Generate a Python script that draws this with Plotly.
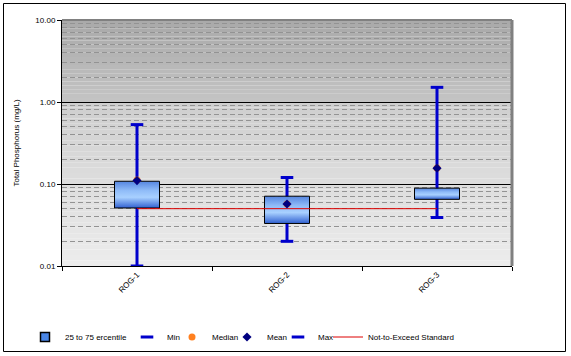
import plotly.graph_objects as go

# ---------------- data ----------------
categories = ["ROG-1", "ROG-2", "ROG-3"]
p25 = [0.051, 0.033, 0.065]
p75 = [0.108, 0.071, 0.089]
vmin = [0.010, 0.020, 0.039]
vmax = [0.53, 0.12, 1.51]
median = [0.112, 0.057, 0.157]
mean = [0.110, 0.057, 0.156]
standard = [0.05, 0.05, 0.05]
y_ticks = [0.01, 0.1, 1, 10]
y_tick_labels = ["0.01", "0.10", "1.00", "10.00"]

legend_names = ["25 to 75 ercentile", "Min", "Median", "Mean", "Max", "Not-to-Exceed Standard"]

# ---------------- layout constants ----------------
W, H = 571, 356
PLOT_L, PLOT_T, PW, PH = 62, 20, 450, 246   # plot area in window pixels
ML, MT = PLOT_L, PLOT_T
MR, MB = W - ML - PW, H - MT - PH
FONT = "Liberation Sans, Arial, sans-serif"
BLUE = "#0000cc"
BOX_BLUE = "#4a86e6"


def px_x(px):
    return (px - PLOT_L) / PW


def px_y(py):
    return (PLOT_T + PH - py) / PH


xs = list(range(len(categories)))
HW = 0.15

fig = go.Figure()

# whiskers (behind boxes)
wx, wy = [], []
for i in xs:
    wx += [i, i, None]
    wy += [vmin[i], vmax[i], None]
fig.add_trace(go.Scatter(x=wx, y=wy, mode="lines", line=dict(color=BLUE, width=3),
                         showlegend=False, hoverinfo="skip"))

# boxes with gradient fill
for i in xs:
    fig.add_trace(go.Scatter(
        x=[i - HW, i + HW, i + HW, i - HW, i - HW],
        y=[p25[i], p25[i], p75[i], p75[i], p25[i]],
        mode="lines", fill="toself",
        fillgradient=dict(type="vertical",
                          colorscale=[[0, "#3060d0"], [0.4, "#a8d0ff"], [0.65, "#90bcf8"], [1, "#5585e0"]]),
        line=dict(color="black", width=1),
        legendgroup="box", showlegend=False, hoverinfo="skip"))
# legend entry for the boxes
fig.add_trace(go.Scatter(x=[None], y=[None], mode="markers",
                         marker=dict(symbol="square", size=9, color=BOX_BLUE, line=dict(color="black", width=1.5)),
                         name=legend_names[0], legend="legend", legendgroup="box", hoverinfo="skip"))

# standard line
fig.add_trace(go.Scatter(x=xs, y=standard, mode="lines", line=dict(color="#dd0000", width=1),
                         name=legend_names[5], legend="legend6", hoverinfo="skip"))

# min / max caps
fig.add_trace(go.Scatter(x=xs, y=vmin, mode="markers",
                         marker=dict(symbol="line-ew", size=9, color=BLUE, line=dict(color=BLUE, width=3)),
                         name=legend_names[1], legend="legend2", hoverinfo="skip"))
fig.add_trace(go.Scatter(x=xs, y=vmax, mode="markers",
                         marker=dict(symbol="line-ew", size=9, color=BLUE, line=dict(color=BLUE, width=3)),
                         name=legend_names[4], legend="legend5", hoverinfo="skip"))

# median / mean
fig.add_trace(go.Scatter(x=xs, y=median, mode="markers",
                         marker=dict(symbol="circle", size=7, color="#ff8020"),
                         name=legend_names[2], legend="legend3", hoverinfo="skip"))
fig.add_trace(go.Scatter(x=xs, y=mean, mode="markers",
                         marker=dict(symbol="diamond", size=7, color="#000080"),
                         name=legend_names[3], legend="legend4", hoverinfo="skip"))

# ---------------- background gradient ----------------
shapes = []


def hexc(v):
    v = int(round(v))
    return "#%02x%02x%02x" % (v, v, v)


def band(y0, y1, c_bottom, c_top, n):
    for k in range(n):
        a = y0 + (y1 - y0) * k / n
        b = y0 + (y1 - y0) * (k + 1) / n
        c = c_bottom + (c_top - c_bottom) * (k + 0.5) / n
        shapes.append(dict(type="rect", xref="x domain", yref="y domain", x0=0, x1=1, y0=a, y1=b,
                           fillcolor=hexc(c), line=dict(width=0), layer="below"))


band(0, 2 / 3, 0xec, 0xcf, 30)
band(2 / 3, 1, 0xc4, 0xa9, 20)

# plot area gray top/right border
shapes.append(dict(type="line", xref="x domain", yref="y domain", x0=0, x1=1, y0=1, y1=1,
                   line=dict(color="#808080", width=2), layer="above"))
shapes.append(dict(type="line", xref="x domain", yref="y domain", x0=1, x1=1, y0=0, y1=1,
                   line=dict(color="#808080", width=3), layer="above"))
# outer chart border
shapes.append(dict(type="rect", xref="paper", yref="paper",
                   x0=px_x(3.5), x1=px_x(565.5), y0=px_y(351.5), y1=px_y(3.5),
                   line=dict(color="black", width=1), fillcolor="rgba(0,0,0,0)", layer="above"))

# ---------------- legends ----------------
legend_text_px = [65, 167, 212, 267, 318, 368]
legend_keys = ["legend", "legend2", "legend3", "legend4", "legend5", "legend6"]
legend_layout = {}
for key, tx in zip(legend_keys, legend_text_px):
    legend_layout[key] = dict(x=px_x(tx - 40), y=px_y(337), xanchor="left", yanchor="middle",
                              orientation="h", bgcolor="rgba(0,0,0,0)", borderwidth=0,
                              font=dict(family=FONT, size=8, color="black"), itemwidth=30)

fig.update_layout(
    width=W, height=H,
    margin=dict(l=ML, r=MR, t=MT, b=MB, autoexpand=False),
    paper_bgcolor="white", plot_bgcolor="rgba(0,0,0,0)",
    font=dict(family=FONT, size=8, color="black"),
    shapes=shapes,
    **legend_layout,
    xaxis=dict(range=[-0.5, len(categories) - 0.5], tickvals=xs, ticktext=categories,
               tickangle=-45, ticks="", showgrid=False, zeroline=False,
               showline=True, linecolor="black", linewidth=1,
               minor=dict(ticks="outside", tick0=-0.5, dtick=1, ticklen=4, tickcolor="black", showgrid=False),
               tickfont=dict(family=FONT, size=8, color="black")),
    yaxis=dict(type="log", range=[-2, 1], tickvals=y_ticks, ticktext=y_tick_labels,
               ticks="outside", ticklen=4, tickcolor="black",
               showline=True, linecolor="black", linewidth=1,
               showgrid=True, gridcolor="black", gridwidth=1, zeroline=False,
               minor=dict(tickvals=[d * 10 ** k for k in (-2, -1, 0) for d in range(2, 10)],
                          showgrid=True, gridcolor="#939393", gridwidth=1, griddash="5px,3px", ticks=""),
               title=dict(text="Total Phosphorus (mg/L)", standoff=14,
                          font=dict(family=FONT, size=8, color="black")),
               tickfont=dict(family=FONT, size=8, color="black")),
)

fig.write_html("out.html", config={"displayModeBar": False},
               post_script="document.body.style.margin='0';document.body.style.padding='0';")
